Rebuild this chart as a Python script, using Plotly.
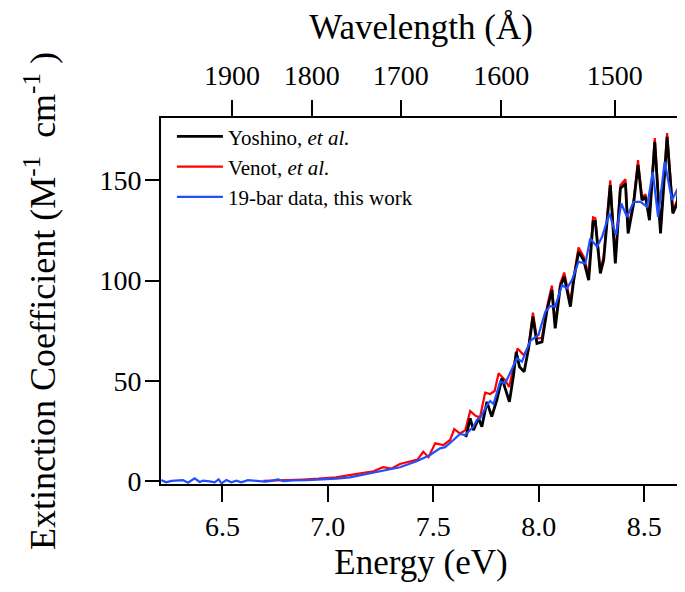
import plotly.graph_objects as go

# ---- data ----
blue_e = [6.2107, 6.2337, 6.2577, 6.2817, 6.3130, 6.3370, 6.3683, 6.3924, 6.4080, 6.4394, 6.4634,
          6.4822, 6.4957, 6.5187, 6.5427, 6.5667, 6.5897, 6.6210, 6.6618, 6.7004, 6.7244, 6.7641,
          6.7881, 6.8351, 6.8988, 6.9781, 7.0408, 7.1045, 7.1838, 7.2611, 7.3415, 7.4209, 7.4846,
          7.5315, 7.5556, 7.5952, 7.6266, 7.6506, 7.6903, 7.7059, 7.7216, 7.7540, 7.7696, 7.7853,
          7.8166, 7.8406, 7.8636, 7.8960, 7.9200, 7.9597, 7.9983, 8.0307, 8.0536, 8.0776, 8.1100,
          8.1330, 8.1570, 8.1883, 8.2207, 8.2437, 8.2760, 8.3001, 8.3345, 8.3658, 8.3909, 8.4180,
          8.4494, 8.4817, 8.5131, 8.5402, 8.5653, 8.5966, 8.6310, 8.6634, 8.6864]
blue_v = [0.6, -0.5, 0.2, 0.3, 0.6, -0.7, 1.5, -0.3, 0.3, 0.0, -0.5,
          1.0, -1.0, 0.6, -0.5, 0.3, -0.5, 0.6, 0.1, -0.2, 0.1, 1.0,
          0.1, 0.5, 0.6, 0.8, 1.3, 2.0, 3.6, 5.2, 7.0, 10.0, 13.1,
          16.4, 17.0, 20.6, 23.6, 23.0, 27.2, 30.5, 31.4, 38.0, 40.0, 38.5,
          49.6, 48.8, 53.8, 61.2, 59.6, 70.0, 72.9, 84.5, 87.3, 87.0, 97.8,
          96.1, 100.2, 109.4, 108.5, 121.0, 116.8, 121.8, 133.5, 122.7, 138.4, 131.8,
          139.2, 139.2, 136.8, 154.2, 131.8, 159.2, 140.1, 146.7, 147.6]

red_e = [6.6941, 6.7463, 6.8090, 6.8821, 6.9552, 7.0387, 7.1014, 7.1640, 7.2162, 7.2611, 7.2997,
         7.3415, 7.3895, 7.4250, 7.4522, 7.4773, 7.5086, 7.5472, 7.5796, 7.5994, 7.6266, 7.6516,
         7.6746, 7.7017, 7.7216, 7.7456, 7.7696, 7.7905, 7.8093, 7.8406, 7.8594, 7.8803, 7.8991,
         7.9283, 7.9513, 7.9722, 7.9910, 8.0150, 8.0390, 8.0620, 8.0776, 8.1017, 8.1205, 8.1497,
         8.1654, 8.1883, 8.2123, 8.2364, 8.2572, 8.2677, 8.2917, 8.3074, 8.3387, 8.3627, 8.3867,
         8.4107, 8.4233, 8.4494, 8.4702, 8.4890, 8.5057, 8.5245, 8.5496, 8.5768, 8.6081, 8.6352,
         8.6561, 8.6801]
red_v = [0.2, 0.5, 0.6, 0.9, 1.3, 2.0, 3.1, 4.0, 5.0, 7.0, 6.3,
         8.6, 9.8, 10.8, 14.7, 12.0, 18.9, 18.0, 20.6, 26.0, 23.8, 25.5,
         35.0, 32.5, 32.0, 44.2, 43.5, 45.0, 53.8, 50.4, 47.0, 56.3, 66.2,
         62.9, 67.0, 84.0, 71.0, 71.5, 87.0, 97.5, 78.0, 98.5, 104.0, 89.0,
         102.0, 116.5, 112.0, 102.5, 131.5, 131.0, 105.0, 112.0, 150.0, 110.5, 147.5,
         150.5, 125.0, 140.0, 160.0, 141.5, 143.0, 131.5, 171.0, 125.0, 173.5, 135.0,
         140.0, 166.0]

black_e = [7.6537, 7.6589, 7.6746, 7.6903, 7.7143, 7.7299, 7.7540, 7.7769, 7.8009, 7.8166, 7.8250,
           7.8406, 7.8605, 7.8803, 7.8928, 7.9085, 7.9304, 7.9513, 7.9722, 7.9910, 8.0150, 8.0390,
           8.0620, 8.0776, 8.1017, 8.1205, 8.1497, 8.1654, 8.1883, 8.2123, 8.2364, 8.2572, 8.2677,
           8.2917, 8.3074, 8.3387, 8.3627, 8.3867, 8.4107, 8.4233, 8.4494, 8.4702, 8.4890, 8.5057,
           8.5245, 8.5496, 8.5768, 8.6081, 8.6352, 8.6561, 8.6801]
black_v = [22.0, 23.9, 31.4, 25.5, 31.4, 27.2, 39.6, 32.2, 40.5, 48.0, 51.3,
           46.3, 39.6, 52.9, 64.5, 57.0, 54.6, 66.2, 82.0, 68.7, 69.5, 85.3,
           95.3, 76.2, 96.9, 101.9, 87.0, 100.2, 114.3, 110.2, 100.2, 129.3, 129.5,
           103.6, 110.2, 147.6, 108.6, 145.9, 148.4, 123.5, 138.4, 157.5, 140.1, 141.7,
           130.1, 169.1, 123.5, 171.6, 133.5, 138.4, 165.0]

x_ticks = [6.5, 7.0, 7.5, 8.0, 8.5]
x_ticktext = ["6.5", "7.0", "7.5", "8.0", "8.5"]
y_ticks = [0, 50, 100, 150]
wl_ticks = [1900, 1800, 1700, 1600, 1500]

# calibration of the top (wavelength) axis as drawn in the reference: E = A + B / lambda
TOP_A = -0.261
TOP_B = 12932.0

FONT = "Liberation Serif, Times New Roman, serif"

fig = go.Figure()
fig.add_trace(go.Scatter(x=red_e, y=red_v, mode="lines", name="Venot, <i>et al.</i>",
                         line=dict(color="#ff0000", width=2.2), legendrank=2))
fig.add_trace(go.Scatter(x=black_e, y=black_v, mode="lines", name="Yoshino, <i>et al.</i>",
                         line=dict(color="#000000", width=2.8), legendrank=1))
fig.add_trace(go.Scatter(x=blue_e, y=blue_v, mode="lines", name="19-bar data, this work",
                         line=dict(color="#1f4fff", width=2.2), legendrank=3))
# invisible trace to anchor the top wavelength axis
fig.add_trace(go.Scatter(x=blue_e, y=blue_v, mode="lines", xaxis="x2", showlegend=False,
                         hoverinfo="skip", line=dict(color="rgba(0,0,0,0)", width=0)))

x_range = [6.209, 8.674]

fig.update_layout(
    width=677, height=584,
    margin=dict(l=153, r=4, t=110, b=108),
    paper_bgcolor="white", plot_bgcolor="white",
    font=dict(family=FONT, color="black", size=28),
    showlegend=True,
    legend=dict(x=0.021, y=1.005, xanchor="left", yanchor="top", bgcolor="rgba(0,0,0,0)",
                font=dict(size=21, family=FONT), itemwidth=46, tracegroupgap=0),
    xaxis=dict(range=x_range, tickvals=x_ticks, ticktext=x_ticktext, ticks="outside",
               ticklen=16, tickwidth=2, tickcolor="black", showline=True, linewidth=2,
               linecolor="black", showgrid=False, zeroline=False, automargin=False,
               tickfont=dict(size=28, family=FONT),
               title=dict(text="Energy (eV)", font=dict(size=35, family=FONT), standoff=9)),
    xaxis2=dict(range=x_range, overlaying="x", side="top", anchor="y", automargin=False,
                tickvals=[TOP_A + TOP_B / w for w in wl_ticks], ticktext=[str(w) for w in wl_ticks],
                ticks="outside", ticklen=16, tickwidth=2, tickcolor="black", showline=True,
                linewidth=1.5, linecolor="black", showgrid=False, zeroline=False,
                tickfont=dict(size=28, family=FONT), ticklabelstandoff=4,
                title=dict(text="Wavelength (Å)", font=dict(size=35, family=FONT), standoff=23)),
    yaxis=dict(range=[-1.34, 181], tickvals=y_ticks, ticks="outside", ticklen=14, tickwidth=2,
               tickcolor="black", showline=True, linewidth=2, linecolor="black", automargin=False,
               showgrid=False, zeroline=False, tickfont=dict(size=28, family=FONT),
               ticklabelstandoff=-2,
               title=dict(text="Extinction Coefficient (M<sup>-1</sup>  cm<sup>-1</sup> )",
                          font=dict(size=36, family=FONT), standoff=33)),
    shapes=[dict(type="line", xref="paper", yref="paper", x0=1, x1=1, y0=0, y1=1,
                 line=dict(color="#888888", width=1))],
)

fig.write_html("out.html")
